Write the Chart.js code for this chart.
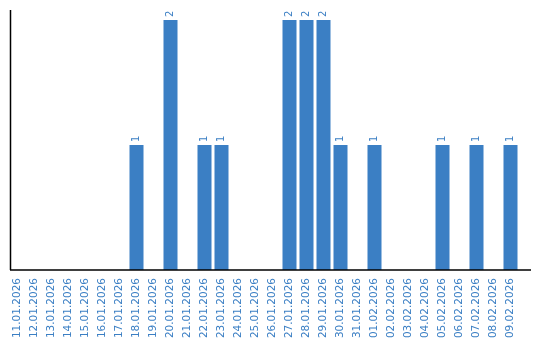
<!DOCTYPE html>
<html>
<head>
<meta charset="utf-8">
<script src="https://cdn.jsdelivr.net/npm/chart.js@4/dist/chart.umd.min.js"></script>
<style>
html,body{margin:0;padding:0;background:#fff;}
#wrap{width:540px;height:340px;position:relative;}
</style>
</head>
<body>
<div id="wrap"><canvas id="c"></canvas></div>
<script>
const categories = ["11.01.2026","12.01.2026","13.01.2026","14.01.2026","15.01.2026","16.01.2026","17.01.2026","18.01.2026","19.01.2026","20.01.2026","21.01.2026","22.01.2026","23.01.2026","24.01.2026","25.01.2026","26.01.2026","27.01.2026","28.01.2026","29.01.2026","30.01.2026","31.01.2026","01.02.2026","02.02.2026","03.02.2026","04.02.2026","05.02.2026","06.02.2026","07.02.2026","08.02.2026","09.02.2026"];
const values = [0,0,0,0,0,0,0,1,0,2,0,1,1,0,0,0,2,2,2,1,0,1,0,0,0,1,0,1,0,1];

const BLUE = '#3b7fc4';
const FONT = 'DejaVu Sans, Verdana, sans-serif';

const axesPlugin = {
  id: 'axesLines',
  afterDraw(chart) {
    const ctx = chart.ctx, a = chart.chartArea;
    ctx.save();
    ctx.strokeStyle = '#000';
    ctx.lineWidth = 1.5;
    ctx.beginPath();
    ctx.moveTo(10.5, a.top);
    ctx.lineTo(10.5, a.bottom);
    ctx.moveTo(10, a.bottom);
    ctx.lineTo(a.right + 12, a.bottom);
    ctx.stroke();
    ctx.restore();
  }
};

const labelPlugin = {
  id: 'barLabels',
  afterDatasetsDraw(chart) {
    const ctx = chart.ctx;
    const meta = chart.getDatasetMeta(0);
    const data = chart.data.datasets[0].data;
    ctx.save();
    ctx.fillStyle = BLUE;
    ctx.font = '10px ' + FONT;
    ctx.textAlign = 'left';
    ctx.textBaseline = 'middle';
    meta.data.forEach((el, i) => {
      if (!data[i]) return;
      ctx.save();
      ctx.translate(el.x, el.y - 3);
      ctx.rotate(-Math.PI / 2);
      ctx.fillText(String(data[i]), 0, 0);
      ctx.restore();
    });
    ctx.restore();
  }
};

new Chart(document.getElementById('c'), {
  type: 'bar',
  data: {
    labels: categories,
    datasets: [{
      data: values,
      backgroundColor: BLUE,
      borderWidth: 0,
      categoryPercentage: 1,
      barPercentage: 14/17
    }]
  },
  options: {
    responsive: true,
    maintainAspectRatio: false,
    animation: false,
    layout: { padding: { left: 9, right: 21, top: 10, bottom: 0 } },
    plugins: { legend: { display: false }, tooltip: { enabled: false } },
    scales: {
      x: {
        grid: { display: false },
        border: { display: false },
        ticks: {
          color: BLUE,
          font: { family: FONT, size: 10.5 },
          minRotation: 90,
          maxRotation: 90,
          autoSkip: false,
          padding: 0
        },
        afterFit(s) { s.height = 70; }
      },
      y: {
        display: false,
        min: 0,
        max: 2.08
      }
    }
  },
  plugins: [axesPlugin, labelPlugin]
});
</script>
</body>
</html>
